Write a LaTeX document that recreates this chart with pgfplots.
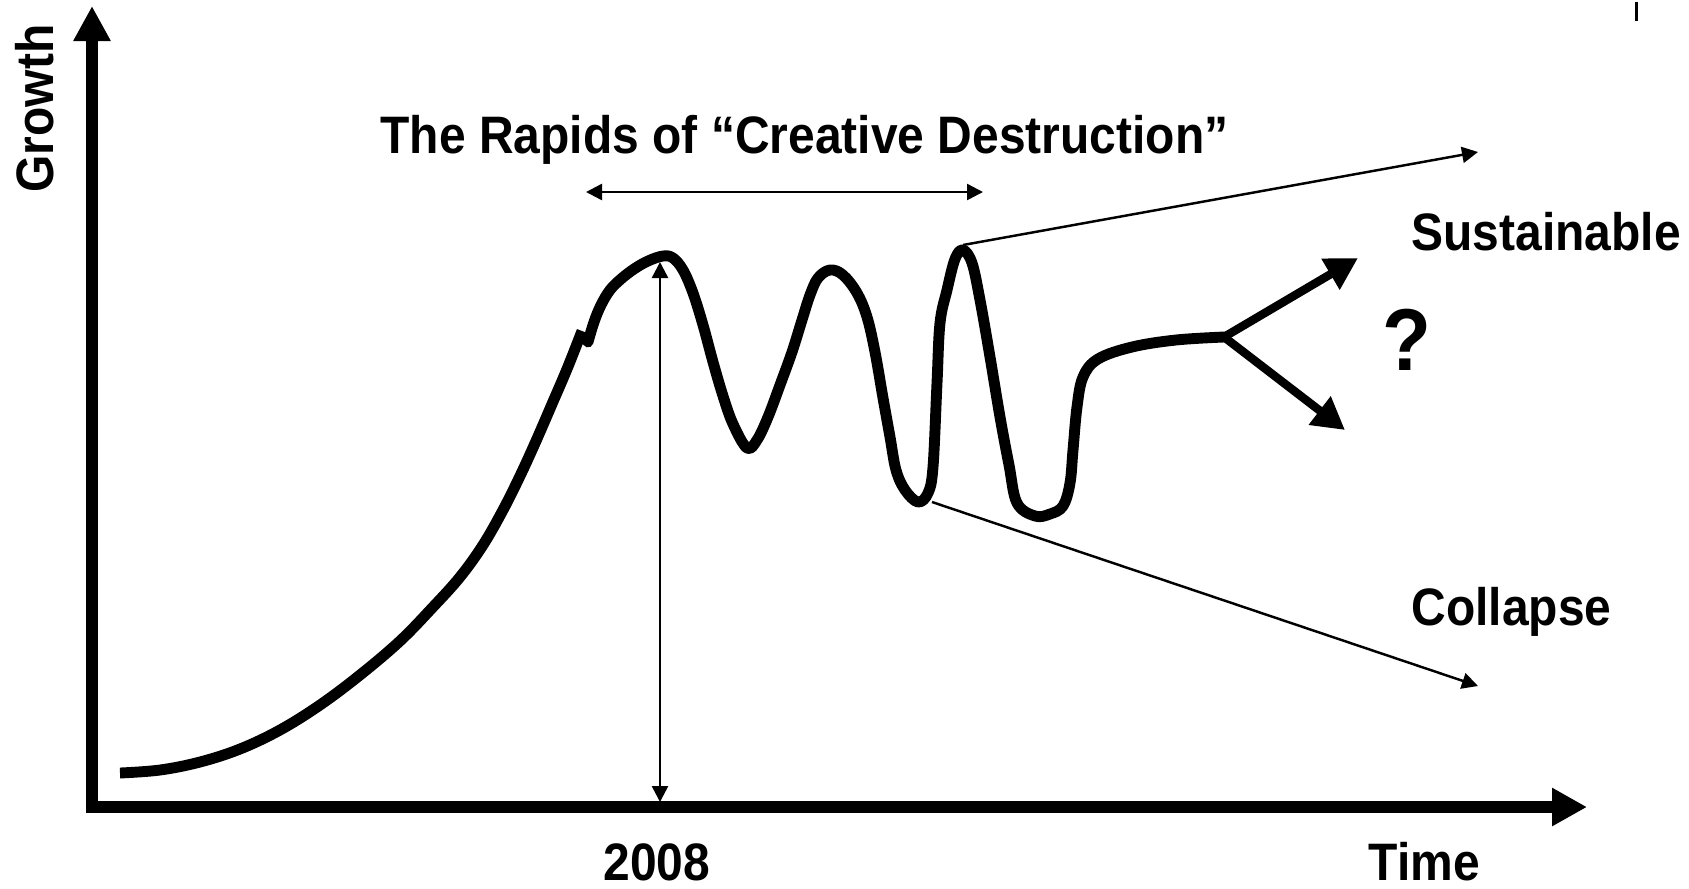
\documentclass[border=0pt]{standalone}
\usepackage{pgfplots}
\pgfplotsset{compat=1.18}
\usepackage{fontspec}
\setmainfont{Liberation Sans}
\usetikzlibrary{arrows.meta}
\tikzset{lab/.style={font=\fontsize{15pt}{18pt}\selectfont\bfseries, inner sep=0pt, xscale=0.91}}
\begin{document}
\begin{tikzpicture}
\begin{axis}[width=16.89cm,height=8.88cm,scale only axis,
  xmin=0,xmax=1689,ymin=0,ymax=888,y dir=reverse,hide axis,clip=false]
\path (axis cs:0,0) rectangle (axis cs:1689,888);
% axes
\addplot[line width=3.4pt, -{Triangle[length=3.5mm,width=3.6mm]}] coordinates {(86,807) (1587,807)};
\addplot[line width=3.4pt, -{Triangle[length=3.5mm,width=3.5mm]}] coordinates {(92,813) (92,6)};
% small mark top right
\addplot[line width=0.85pt] coordinates {(1636,1.6) (1636,21)};
% growth curve, first segment
\addplot[line width=3.1pt, smooth, tension=0.6, line cap=butt] coordinates {
(120,773) (160,770) (200,762) (240,749) (280,730) (320,705) (360,675) (400,641)
(433,607) (460,577) (483,545) (503,510) (520,476) (536,441) (552,404) (567,369) (582,331)};
% rapids, second segment
\addplot[line width=3.1pt, smooth, tension=0.6, line join=round, line cap=round] coordinates {
(588,342) (594,322) (601,305) (610,290) (621,279) (634,269) (648,261) (663,256)
(673,258) (683,270) (693,293) (703,325) (713,362) (723,396) (733,424) (747,448)
(757,440) (768,417) (780,385) (792,352) (802,320) (810,295) (818,278) (830,270)
(843,275) (857,293) (867,317) (875,352) (883,398) (890,437) (896,470) (905,490)
(918,502) (928,493) (933,467) (937,383) (940,323) (947,290) (955,259) (963,250)
(972,263) (980,300) (990,357) (1000,417) (1009,465) (1017,503) (1035,516)
(1050,514) (1063,506) (1070,483) (1073,450) (1077,407) (1083,377) (1098,359)
(1132,347) (1176,340) (1224,337)};
% branch arrows
\addplot[line width=2.4pt, -{Triangle[length=3.2mm,width=3.4mm]}] coordinates {(1224,337) (1358,258)};
\addplot[line width=2.4pt, -{Triangle[length=3.2mm,width=3.4mm]}] coordinates {(1224,337) (1345,430)};
% thin scenario lines
\addplot[line width=0.7pt, -{Triangle[length=1.6mm,width=1.6mm]}] coordinates {(963,245) (1478,152)};
\addplot[line width=0.7pt, -{Triangle[length=1.6mm,width=1.6mm]}] coordinates {(932,502) (1478,686)};
% rapids span
\addplot[line width=0.7pt, {Triangle[length=1.6mm,width=1.6mm]}-{Triangle[length=1.6mm,width=1.6mm]}] coordinates {(586,192) (983,192)};
% 2008 marker
\addplot[line width=0.7pt, {Triangle[length=1.6mm,width=1.6mm]}-{Triangle[length=1.6mm,width=1.6mm]}] coordinates {(660,802) (660,262)};
% labels
\node[lab, anchor=base west] at (axis cs:380,153) {The Rapids of “Creative Destruction”};
\node[rotate=90, lab, anchor=base west] at (axis cs:53,193) {Growth};
\node[lab, anchor=base west] at (axis cs:1411,250) {Sustainable};
\node[lab, anchor=base west] at (axis cs:1411,625) {Collapse};
\node[lab, anchor=base west] at (axis cs:1368,880) {Time};
\node[lab, anchor=base west] at (axis cs:603,880) {2008};
\node[font=\fontsize{25pt}{30pt}\selectfont\bfseries, inner sep=0pt, xscale=0.91] at (axis cs:1407,340) {?};
\end{axis}
\end{tikzpicture}
\end{document}
